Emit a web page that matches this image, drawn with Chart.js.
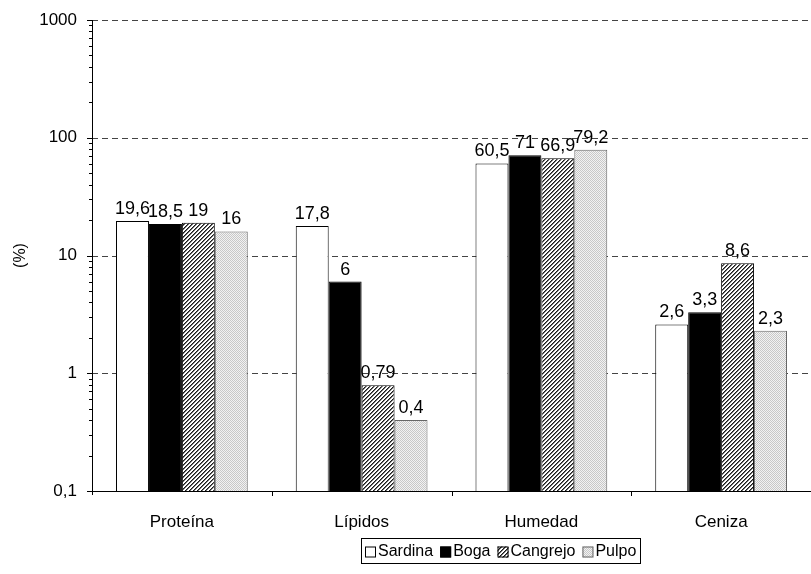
<!DOCTYPE html>
<html>
<head>
<meta charset="utf-8">
<script src="https://cdn.jsdelivr.net/npm/chart.js@4.4.0/dist/chart.umd.min.js"></script>
<style>
  html, body { margin: 0; padding: 0; background: #fff; }
  #wrap { width: 811px; height: 574px; }
</style>
</head>
<body>
<div id="wrap"><canvas id="chart" width="811" height="574"></canvas></div>
<script>
const categories = ['Proteína', 'Lípidos', 'Humedad', 'Ceniza'];
const seriesNames = ['Sardina', 'Boga', 'Cangrejo', 'Pulpo'];
const sardina = [19.6, 17.8, 60.5, 2.6];
const boga = [18.5, 6, 71, 3.3];
const cangrejo = [19, 0.79, 66.9, 8.6];
const pulpo = [16, 0.4, 79.2, 2.3];
const yTicks = [0.1, 1, 10, 100, 1000];

const FONT = 'Liberation Sans, Arial, sans-serif';

// fill patterns
function hatch() {
  const c = document.createElement('canvas');
  c.width = 4; c.height = 4;
  const g = c.getContext('2d');
  g.fillStyle = '#ffffff';
  g.fillRect(0, 0, 4, 4);
  for (let i = 0; i < 4; i++) {
    g.fillStyle = '#1a1a1a';
    g.fillRect(3 - i, i, 1, 1);
    g.fillStyle = '#707070';
    g.fillRect((4 - i) % 4, i, 1, 1);
  }
  return g.createPattern(c, 'repeat');
}
function dots() {
  const c = document.createElement('canvas');
  c.width = 2; c.height = 2;
  const g = c.getContext('2d');
  g.fillStyle = '#f2f2f2';
  g.fillRect(0, 0, 2, 2);
  g.fillStyle = '#c8c8c8';
  g.fillRect(0, 0, 1, 1);
  g.fillRect(1, 1, 1, 1);
  return g.createPattern(c, 'repeat');
}

const fills = ['#ffffff', '#000000', hatch(), dots()];
const borders = ['#000000', '#000000', '#000000', '#666666'];
const values = [sardina, boga, cangrejo, pulpo];

const fmt = v => String(v).replace('.', ',');

const gridPlugin = {
  id: 'gridPlugin',
  beforeDatasetsDraw(chart) {
    const ctx = chart.ctx;
    const y = chart.scales.y;
    const a = chart.chartArea;
    ctx.save();
    ctx.strokeStyle = '#444';
    ctx.lineWidth = 1;
    ctx.setLineDash([6, 4]);
    [1, 10, 100, 1000].forEach(v => {
      const py = Math.round(y.getPixelForValue(v)) + 0.5;
      ctx.beginPath();
      ctx.moveTo(a.left, py);
      ctx.lineTo(a.right, py);
      ctx.stroke();
    });
    ctx.restore();
  }
};

const labelPlugin = {
  id: 'labelPlugin',
  afterDatasetsDraw(chart) {
    const ctx = chart.ctx;
    const y = chart.scales.y, x = chart.scales.x;
    const a = chart.chartArea;
    ctx.save();
    // axis lines
    ctx.strokeStyle = '#000';
    ctx.lineWidth = 1;
    ctx.beginPath();
    ctx.moveTo(a.left + 0.5, a.top);
    ctx.lineTo(a.left + 0.5, a.bottom + 4);
    ctx.moveTo(a.left - 5, Math.round(a.bottom) + 0.5);
    ctx.lineTo(a.right, Math.round(a.bottom) + 0.5);
    ctx.stroke();
    // y ticks, major and minor
    for (let e = -1; e <= 3; e++) {
      const base = Math.pow(10, e);
      for (let m = 1; m <= 9; m++) {
        const v = base * m;
        if (v > 1000) break;
        const py = Math.round(y.getPixelForValue(v)) + 0.5;
        const len = m === 1 ? 5 : 3;
        ctx.beginPath();
        ctx.moveTo(a.left - len, py);
        ctx.lineTo(a.left, py);
        ctx.stroke();
      }
    }
    // x ticks between categories
    for (let i = 1; i < categories.length; i++) {
      const px = Math.round((x.getPixelForValue(i - 1) + x.getPixelForValue(i)) / 2) + 0.5;
      ctx.beginPath();
      ctx.moveTo(px, a.bottom);
      ctx.lineTo(px, a.bottom + 5);
      ctx.stroke();
    }
    // value labels
    ctx.fillStyle = '#000';
    ctx.font = '18px ' + FONT;
    ctx.textAlign = 'center';
    ctx.textBaseline = 'bottom';
    chart.data.datasets.forEach((ds, di) => {
      chart.getDatasetMeta(di).data.forEach((bar, i) => {
        ctx.fillText(fmt(ds.data[i]), bar.x, bar.y - 3);
      });
    });
    // legend
    ctx.font = '16px ' + FONT;
    ctx.textAlign = 'left';
    ctx.textBaseline = 'middle';
    const gap = 7, box = 11;
    let total = 0;
    chart.data.datasets.forEach(ds => { total += box + 2 + ctx.measureText(ds.label).width; });
    total += gap * (chart.data.datasets.length - 1);
    const lw = total + 8, lh = 25;
    const lx = Math.round(501 - lw / 2), ly = 538;
    ctx.strokeStyle = '#000';
    ctx.strokeRect(lx + 0.5, ly + 0.5, Math.round(lw), lh);
    let cx = lx + 4;
    const cy = ly + lh / 2 + 1;
    chart.data.datasets.forEach(ds => {
      ctx.fillStyle = ds.backgroundColor;
      ctx.fillRect(cx, cy - 5, box, box);
      ctx.strokeStyle = ds.borderColor;
      ctx.strokeRect(cx + 0.5, cy - 4.5, box - 1, box - 1);
      ctx.fillStyle = '#000';
      ctx.fillText(ds.label, cx + box + 2, cy);
      cx += box + 2 + ctx.measureText(ds.label).width + gap;
    });
    ctx.restore();
  }
};

new Chart(document.getElementById('chart'), {
  type: 'bar',
  data: {
    labels: categories,
    datasets: seriesNames.map((name, i) => ({
      label: name,
      data: values[i],
      backgroundColor: fills[i],
      borderColor: borders[i],
      borderWidth: 1,
      borderSkipped: 'bottom',
      categoryPercentage: 0.733,
      barPercentage: 1.0
    }))
  },
  options: {
    responsive: false,
    animation: false,
    layout: { padding: { top: 20, right: 0, left: 0, bottom: 0 } },
    plugins: {
      legend: { display: false },
      tooltip: { enabled: false }
    },
    scales: {
      x: {
        grid: { display: false, drawTicks: false },
        border: { display: false },
        ticks: { color: '#000', font: { family: FONT, size: 17 }, padding: 21 },
        afterFit: s => { s.height = 83; s.paddingLeft = 0; s.paddingRight = 0; }
      },
      y: {
        type: 'logarithmic',
        min: 0.1,
        max: 1000,
        grid: { display: false, drawTicks: false },
        border: { display: false },
        afterBuildTicks: s => { s.ticks = yTicks.map(v => ({ value: v })); },
        ticks: {
          color: '#000',
          font: { family: FONT, size: 17 },
          padding: 15,
          callback: v => fmt(v)
        },
        title: {
          display: true,
          text: '(%)',
          color: '#000',
          font: { family: FONT, size: 16 },
          padding: { top: 11, bottom: 0 }
        },
        afterFit: s => { s.width = 92; s.paddingTop = 0; s.paddingBottom = 0; }
      }
    }
  },
  plugins: [gridPlugin, labelPlugin]
});
</script>
</body>
</html>
